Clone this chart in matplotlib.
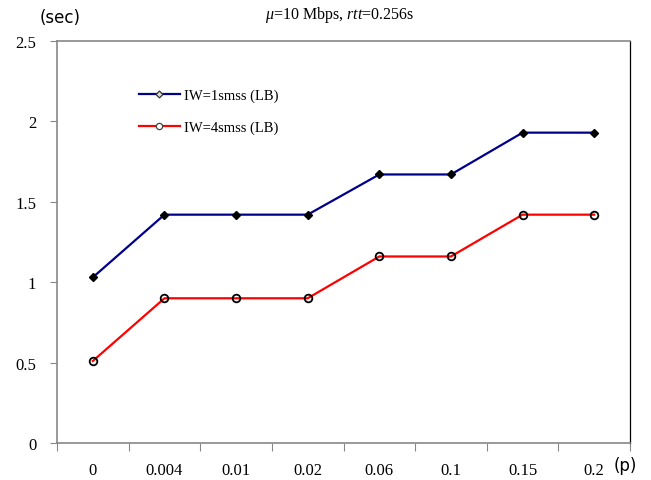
import matplotlib
matplotlib.use("Agg")
import matplotlib.pyplot as plt
from matplotlib.lines import Line2D

plt.rcParams["mathtext.fontset"] = "custom"
plt.rcParams["mathtext.it"] = "Liberation Serif:italic"
plt.rcParams["mathtext.rm"] = "Liberation Serif"

categories = ["0", "0.004", "0.01", "0.02", "0.06", "0.1", "0.15", "0.2"]
iw1 = [1.03, 1.42, 1.42, 1.42, 1.67, 1.67, 1.93, 1.93]
iw4 = [0.51, 0.90, 0.90, 0.90, 1.16, 1.16, 1.42, 1.42]
yticks = [0, 0.5, 1, 1.5, 2, 2.5]
ytick_labels = ["0", "0.5", "1", "1.5", "2", "2.5"]
labels = ["IW=1smss (LB)", "IW=4smss (LB)"]

fig = plt.figure(figsize=(6.51, 4.81), dpi=100)
ax = fig.add_axes([57/651, 1-444/481, (630-57)/651, (444-42)/481])

x = list(range(len(categories)))
ax.plot(x, iw1, color="#00008B", lw=1.6, marker="D", ms=4.5, mfc="black", mec="black", zorder=3)
ax.plot(x, iw4, color="#FF0000", lw=1.6, marker="o", ms=5.5, mfc="none", mec="black", mew=1.3, zorder=3)

ax.set_xlim(-0.5, len(categories) - 0.5)
ax.set_ylim(0, 2.5)
ax.set_yticks(yticks)
ax.set_yticklabels(ytick_labels, family="Liberation Serif", fontsize=12)
ax.set_xticks([i - 0.5 for i in range(len(categories) + 1)], minor=False)
ax.set_xticklabels([])
ax.set_xticks(x, minor=True)
ax.set_xticklabels(categories, minor=True, family="Liberation Serif", fontsize=12)
ax.tick_params(axis="x", which="minor", length=0, pad=14)
ax.tick_params(axis="x", which="major", length=6, color="#888888")
ax.tick_params(axis="y", length=5, color="#888888", pad=10)

for s in ["left", "bottom", "top"]:
    ax.spines[s].set_color("#888888")
    ax.spines[s].set_linewidth(1.2)
ax.spines["right"].set_color("black")
ax.spines["right"].set_linewidth(0.9)

handles = [
    Line2D([], [], color="#00008B", lw=1.6, marker="D", ms=3.5, mfc="#dddddd", mec="#333333", mew=0.9),
    Line2D([], [], color="#FF0000", lw=1.6, marker="o", ms=4.5, mfc="white", mec="#444444", mew=0.9),
]
ax.legend(handles, labels, loc="upper left", bbox_to_anchor=(0.12, 0.915), frameon=False,
          prop={"family": "Liberation Serif", "size": 10.5}, labelspacing=1.3,
          handlelength=2.8, handletextpad=0.3)

fig.text(40/651, 1-18/481, "(sec)", fontsize=12, family="DejaVu Sans", ha="left", va="center")
fig.text(625/651, 1-466/481, "(p)", fontsize=12, family="DejaVu Sans", ha="center", va="center")
fig.text(340/651, 1-15/481, r"$\mathit{\mu}$=10 Mbps, $\mathit{rtt}$=0.256s",
         fontsize=11.5, family="Liberation Serif", ha="center", va="center")

fig.savefig("out.png", dpi=100)
